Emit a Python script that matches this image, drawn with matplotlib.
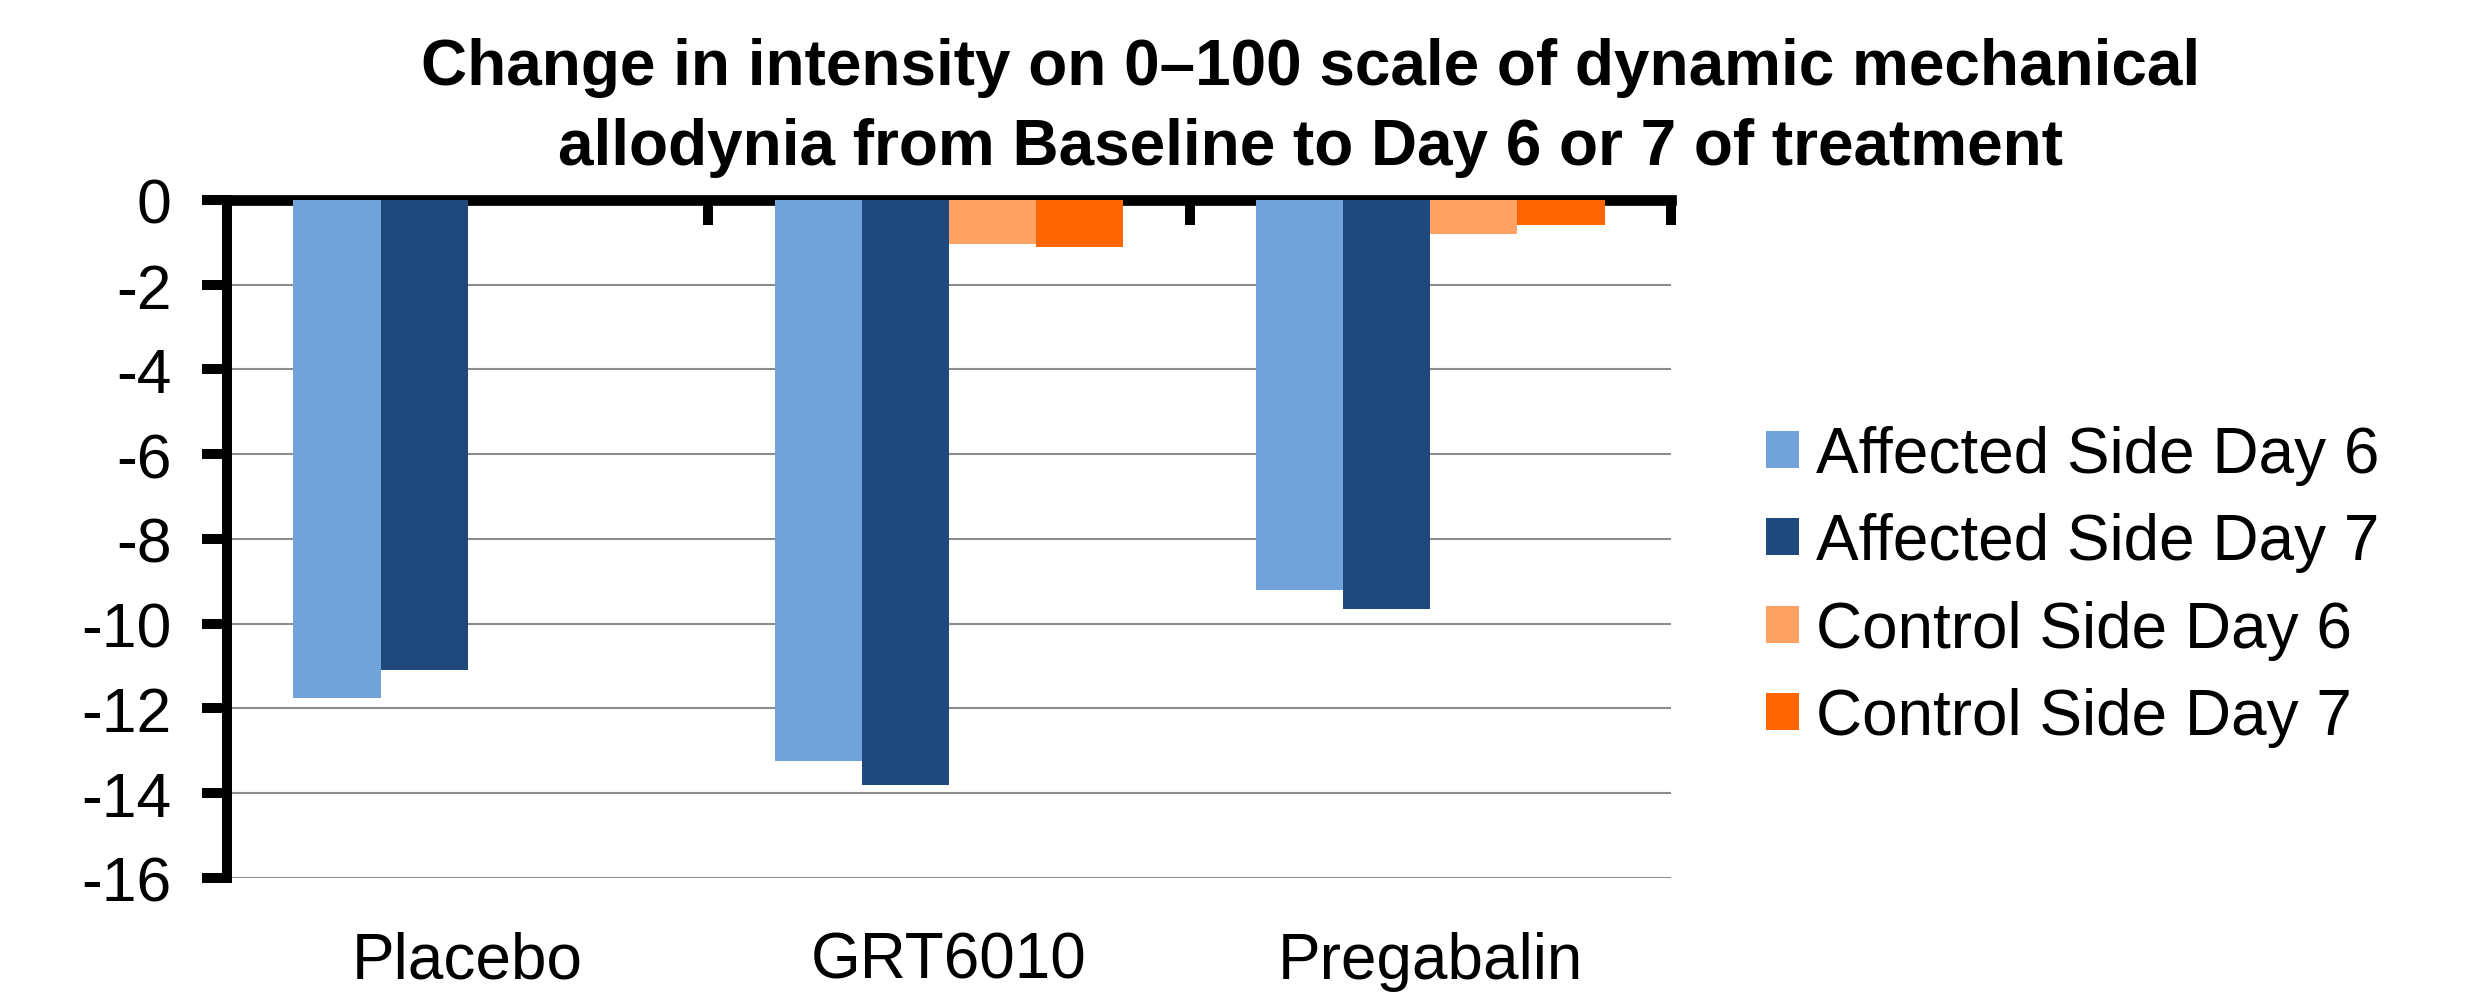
import numpy as np
import matplotlib
matplotlib.use("Agg")
import matplotlib.pyplot as plt
from matplotlib.patches import Patch

plt.rcParams['font.family'] = ['Liberation Sans', 'DejaVu Sans']

# Werte
categories = ["Placebo", "GRT6010", "Pregabalin"]
series_names = ["Affected Side Day 6", "Affected Side Day 7",
                "Control Side Day 6", "Control Side Day 7"]
affected_day6 = [-11.75, -13.25, -9.2]
affected_day7 = [-11.1, -13.8, -9.65]
control_day6 = [0.0, -1.05, -0.8]
control_day7 = [0.0, -1.1, -0.6]
y_ticks = [0, -2, -4, -6, -8, -10, -12, -14, -16]

colors = ["#71A3DA", "#1F497D", "#FFA263", "#FF6600"]
series = [affected_day6, affected_day7, control_day6, control_day7]

fig = plt.figure(figsize=(24.73, 9.95), dpi=100)
ax = fig.add_axes([0.0918, 0.1166, 0.5839, 0.6814])

x = np.arange(len(categories)) + 0.5
bar_w = 0.181
for i, (vals, col) in enumerate(zip(series, colors)):
    ax.bar(x + (i - 1.5) * bar_w, vals, bar_w, color=col, zorder=3)

ax.set_xlim(0, 3)
ax.set_ylim(-16, 0)

# Gitterlinien
ax.set_yticks(y_ticks)
ax.set_yticklabels([str(t) for t in y_ticks], fontsize=45)
ax.yaxis.grid(True, color="#8c8c8c", linewidth=1.5, zorder=0)
ax.tick_params(axis="y", direction="out", length=18, width=7.2, pad=22)

# Achsen: x-Achse oben bei 0, y-Achse links
for s in ["bottom", "right"]:
    ax.spines[s].set_visible(False)
ax.spines["top"].set_linewidth(7.7)
ax.spines["left"].set_linewidth(7.2)

ax.xaxis.set_ticks_position("top")
ax.set_xticks([1, 2, 3])
ax.set_xticklabels([])
ax.tick_params(axis="x", which="major", direction="in", length=18, width=7.2)

ax.set_xticks(x, minor=True)
ax.set_xticklabels(categories, minor=True, fontsize=46)
ax.tick_params(axis="x", which="minor", bottom=True, top=False,
               labelbottom=True, labeltop=False, length=0, pad=38)

fig.text(0.53, 0.962,
         "Change in intensity on 0\u2013100 scale of dynamic mechanical\n"
         "allodynia from Baseline to Day 6 or 7 of treatment",
         ha="center", va="top", fontsize=46, fontweight="bold",
         linespacing=1.43)

handles = [Patch(facecolor=c, edgecolor="none") for c in colors]
fig.legend(handles, series_names, loc="center left",
           bbox_to_anchor=(0.714, 0.41), frameon=False, fontsize=46,
           handlelength=0.52, handleheight=0.52, handletextpad=0.27,
           labelspacing=0.43, borderpad=0, borderaxespad=0)

fig.savefig("out.png", dpi=100)
